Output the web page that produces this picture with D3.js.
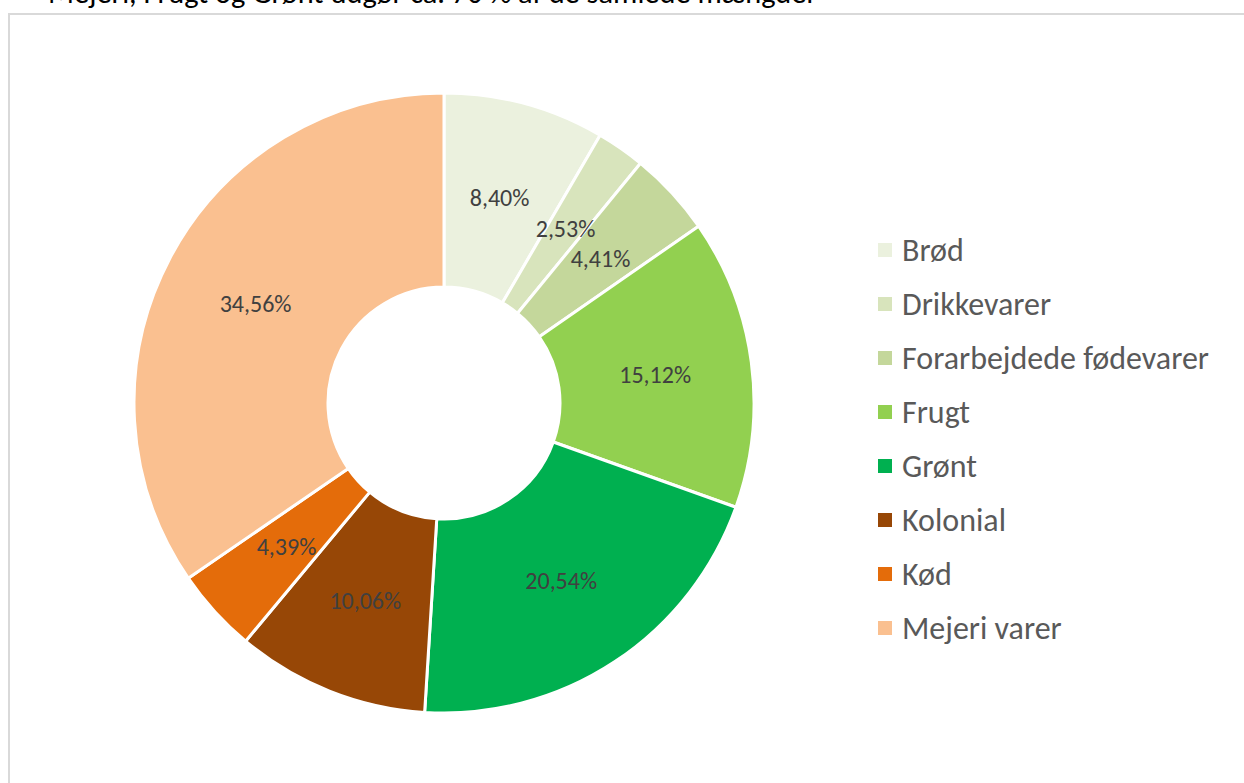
<!DOCTYPE html>
<html><head><meta charset="utf-8">
<script src="https://cdn.jsdelivr.net/npm/d3@7"></script>
<style>html,body{margin:0;padding:0;background:#fff;overflow:hidden}</style>
</head><body>
<svg id="chart" width="1244" height="783"></svg>
<script>
const categories = ["Brød","Drikkevarer","Forarbejdede fødevarer","Frugt","Grønt","Kolonial","Kød","Mejeri varer"];
const values = [8.40, 2.53, 4.41, 15.12, 20.54, 10.06, 4.39, 34.56];
const labels = ["8,40%","2,53%","4,41%","15,12%","20,54%","10,06%","4,39%","34,56%"];
const colors = ["#EBF1DE","#D8E4BC","#C4D79B","#92D050","#00B050","#974706","#E46C0A","#FAC090"];
const title = "Mejeri, Frugt og Grønt udgør ca. 70 % af de samlede mængder";

const FONT = "Carlito, Calibri, Lato, sans-serif";
const svg = d3.select("#chart");

// title (cut off at top)
svg.append("text").attr("x",48).attr("y",3).attr("font-family",FONT)
  .attr("font-size",30).attr("fill","#000").attr("textLength",769).attr("lengthAdjust","spacingAndGlyphs")
  .text(title);

// frame
svg.append("rect").attr("x",9).attr("y",14).attr("width",1260).attr("height",800)
  .attr("fill","#fff").attr("stroke","#d9d9d9").attr("stroke-width",2);

const cx = 444, cy = 403, R = 310, r0 = 116;
const pie = d3.pie().sort(null).value(d=>d.v);
const data = pie(categories.map((c,i)=>({c, v:values[i], l:labels[i], col:colors[i]})));
const arc = d3.arc().innerRadius(r0).outerRadius(R);
const g = svg.append("g").attr("transform",`translate(${cx},${cy})`);
g.selectAll("path").data(data).join("path")
  .attr("d",arc).attr("fill",d=>d.data.col).attr("stroke","#fff").attr("stroke-width",3).attr("stroke-linejoin","round");
g.selectAll("text").data(data).join("text")
  .attr("transform",d=>`translate(${arc.centroid(d)})`)
  .attr("text-anchor","middle").attr("dominant-baseline","central")
  .attr("font-family",FONT).attr("font-size",24).attr("fill","#404040")
  .text(d=>d.data.l);

// legend
const ly = d3.scalePoint().domain(categories).range([250,628]);
const lg = svg.append("g");
const items = lg.selectAll("g").data(categories).join("g")
  .attr("transform",d=>`translate(878,${ly(d)})`);
items.append("rect").attr("x",0).attr("y",-7).attr("width",14).attr("height",14)
  .attr("fill",(d,i)=>colors[i]);
items.append("text").attr("x",24).attr("y",0).attr("dominant-baseline","central")
  .attr("font-family",FONT).attr("font-size",32).attr("fill","#595959").text(d=>d);
</script>
</body></html>
